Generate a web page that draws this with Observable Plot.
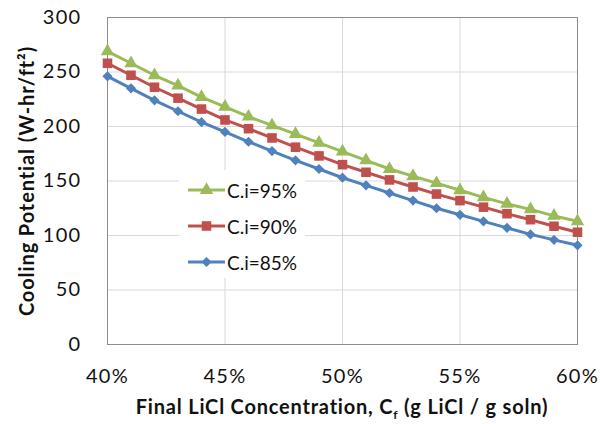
<!DOCTYPE html>
<html><head><meta charset="utf-8">
<script src="https://cdn.jsdelivr.net/npm/d3@7"></script>
<script src="https://cdn.jsdelivr.net/npm/@observablehq/plot@0.6"></script>
<style>
body{margin:0;background:#fff;font-family:Lato,"Open Sans",sans-serif;}
#wrap{position:relative;width:600px;height:424px;overflow:hidden;}
#xtitle{position:absolute;left:92px;width:500px;top:394px;text-align:center;font-weight:bold;font-size:20px;letter-spacing:0.8px;color:#111;}
#legend{position:absolute;left:179px;top:170px;width:126px;height:108px;background:#fff;}
.le{position:absolute;left:0;height:30px;display:flex;align-items:center;font-size:19px;color:#111;}
</style></head>
<body><div id="wrap"><div id="chart"></div>
<div id="xtitle">Final LiCl Concentration, C<sub style="font-size:12px">f</sub> (g LiCl / g soln)</div>
<div id="legend"></div></div>
<script>
const conc = [0.40,0.41,0.42,0.43,0.44,0.45,0.46,0.47,0.48,0.49,0.50,0.51,0.52,0.53,0.54,0.55,0.56,0.57,0.58,0.59,0.60];
const ci95 = [269,258,247,237.5,227,218,209,201,193,185,177,169,161,154.5,148,141.5,135,129,124,118,113];
const ci90 = [258,247,236,226,216,206,198,189.5,181,173,165,158,151,144.5,138,132,126,120,114.5,108.5,103];
const ci85 = [246,235,224,214,204,195,186,177.5,169,161,153,146,139,132,125,119,113,107,101,96,91];
const seriesNames = ["C.i=95%","C.i=90%","C.i=85%"];
const seriesColors = ["#9BBB59","#C0504D","#4F81BD"];
const seriesSymbols = ["triangle","square","diamond2"];
const seriesR = [5.0,5.4,4.6];
const yTicks = [0,50,100,150,200,250,300];
const xTicks = [0.40,0.45,0.50,0.55,0.60];
const yLabel = "Cooling Potential (W-hr/ft²)";

const vals = [ci95, ci90, ci85];
const rows = [];
seriesNames.forEach((s,i)=>conc.forEach((c,j)=>rows.push({s, c, v: vals[i][j], i})));

const marks = [
  Plot.gridY(yTicks,{stroke:"#d9d9d9",strokeOpacity:1}),
  Plot.gridX(xTicks,{stroke:"#d9d9d9",strokeOpacity:1}),
  Plot.frame({stroke:"#8c8c8c"}),
  Plot.axisY({ticks:yTicks,tickSize:0,tickPadding:26,fontSize:20,label:yLabel,labelArrow:"none",labelAnchor:"center",labelOffset:88}),
  Plot.axisX({ticks:xTicks,tickSize:0,tickPadding:24,fontSize:20,tickFormat:d3.format(".0%"),label:null})
];
[2,1,0].forEach(i=>{
  const d = rows.filter(r=>r.i===i);
  marks.push(Plot.line(d,{x:"c",y:"v",stroke:seriesColors[i],strokeWidth:3}));
  marks.push(Plot.dot(d,{x:"c",y:"v",fill:seriesColors[i],stroke:"none",symbol:()=>seriesSymbols[i],r:seriesR[i]}));
});

const chart = Plot.plot({
  width:600,height:396,
  marginLeft:107,marginRight:23,marginTop:17,marginBottom:52,
  style:{fontFamily:"Lato, 'Open Sans', sans-serif",color:"#111",background:"#fff"},
  x:{domain:[0.40,0.60]},
  y:{domain:[0,300]},
  marks
});
chart.querySelectorAll("g[aria-label='y-axis label']").forEach(g=>{
  g.setAttribute("font-weight","bold");g.setAttribute("font-size","20");g.style.letterSpacing="0.9px";
  g.querySelectorAll("text").forEach(t=>{t.textContent=yLabel;});
});
chart.querySelectorAll("g[aria-label='y-axis tick label'], g[aria-label='x-axis tick label']").forEach(g=>{g.style.letterSpacing="1.3px";});
document.getElementById("chart").appendChild(chart);

const leg = d3.select("#legend");
seriesNames.forEach((s,i)=>{
  const e = leg.append("div").attr("class","le").style("top",(5+i*36)+"px");
  const sv = e.append("svg").attr("width",48).attr("height",20);
  sv.append("line").attr("x1",9).attr("x2",46).attr("y1",10).attr("y2",10).attr("stroke",seriesColors[i]).attr("stroke-width",3);
  const sym = {triangle:d3.symbolTriangle,square:d3.symbolSquare,diamond2:d3.symbolDiamond2}[seriesSymbols[i]];
  sv.append("path").attr("transform","translate(27.5,10)").attr("fill",seriesColors[i]).attr("d",d3.symbol(sym,Math.PI*seriesR[i]*seriesR[i])());
  e.append("span").text(s);
});
</script></body></html>
